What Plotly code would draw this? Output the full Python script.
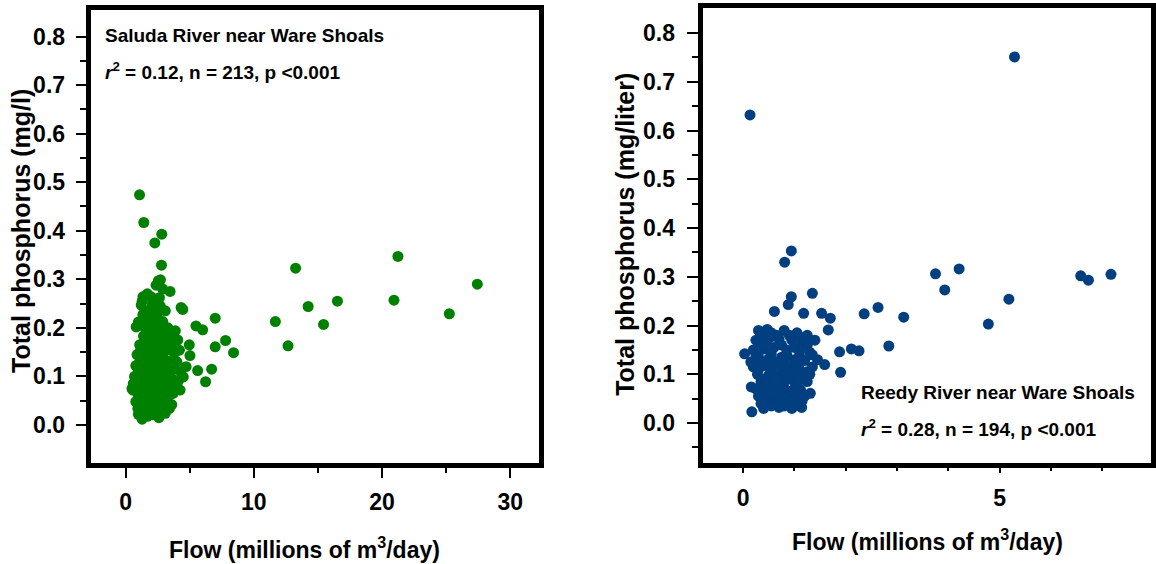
import plotly.graph_objects as go

W, H = 1156, 564

# ---------------- data ----------------
saluda_flow = [
    1.09, 1.42, 2.82, 2.28, 2.80, 2.56, 2.72, 2.38, 3.47, 13.26, 21.24, 27.43, 20.93, 25.25,
    16.52, 14.24, 15.44, 11.68, 12.67, 6.99, 8.42, 7.80, 6.99, 5.49, 6.01, 6.71, 5.62, 6.24,
    4.97, 5.02, 4.33, 4.46, 1.35, 2.00, 2.64, 1.22, 0.83, 1.35, 1.86, 2.90, 3.88, 3.42, 4.07,
    1.17, 1.73, 4.20, 4.72, 0.57, 1.29, 0.96, 3.42, 2.12, 4.25, 4.50,
    1.3, 2.1, 2.7, 1.5, 2.4, 3.1, 1.0, 1.9, 2.6, 3.3, 2.2,
    1.4, 2.0, 2.9, 3.6, 1.1, 1.6, 2.4, 3.0, 3.8, 0.9,
    1.3, 1.9, 2.6, 3.3, 4.0, 2.2, 0.8, 1.5, 2.0, 2.8, 3.5, 4.3, 1.2,
    0.7, 1.7, 2.3, 3.0, 3.7, 1.0, 2.6, 0.6, 1.4, 2.0, 3.2, 3.9, 1.8, 2.8,
    0.9, 1.5, 2.4, 3.4, 1.2, 2.1, 3.0, 0.8, 1.6, 2.5, 3.6, 1.1, 2.0, 2.9,
    1.4, 2.3, 3.1, 1.7, 2.6, 1.0,
    1.8, 2.5, 1.3, 2.2, 3.2, 1.6, 2.7, 0.5, 4.1, 1.9, 2.4, 1.1, 3.0, 1.5, 2.8, 3.3, 1.2, 2.0,
    1.7, 2.9,
    1.0, 1.6, 2.3, 2.9, 3.4, 1.3, 1.9, 2.5, 3.1, 3.7, 1.0, 1.8, 2.6, 3.3, 1.5, 2.2, 2.8,
    1.2, 2.0, 2.7, 3.4, 1.7, 2.4, 3.0, 3.8, 1.4, 2.2, 2.6, 1.8, 2.5,
]
saluda_tp = [
    0.474, 0.417, 0.393, 0.375, 0.329, 0.297, 0.299, 0.288, 0.275, 0.323, 0.347, 0.290, 0.257, 0.229,
    0.255, 0.244, 0.207, 0.213, 0.163, 0.220, 0.149, 0.174, 0.161, 0.204, 0.196, 0.115, 0.112, 0.089,
    0.165, 0.143, 0.242, 0.238, 0.264, 0.264, 0.262, 0.247, 0.202, 0.227, 0.220, 0.213, 0.194, 0.185, 0.175,
    0.154, 0.178, 0.154, 0.120, 0.072, 0.012, 0.034, 0.034, 0.021, 0.072, 0.099,
    0.255, 0.250, 0.245, 0.232, 0.228, 0.235, 0.212, 0.208, 0.205, 0.200, 0.190,
    0.183, 0.176, 0.172, 0.168, 0.165, 0.158, 0.155, 0.150, 0.148, 0.145,
    0.140, 0.138, 0.135, 0.132, 0.130, 0.128, 0.122, 0.120, 0.118, 0.115, 0.112, 0.110, 0.108,
    0.100, 0.100, 0.098, 0.096, 0.094, 0.092, 0.090, 0.085, 0.086, 0.082, 0.080, 0.078, 0.076, 0.074,
    0.068, 0.066, 0.064, 0.062, 0.058, 0.055, 0.052, 0.048, 0.046, 0.044, 0.042, 0.040, 0.038, 0.036,
    0.028, 0.026, 0.024, 0.018, 0.015, 0.022,
    0.130, 0.112, 0.075, 0.070, 0.108, 0.090, 0.125, 0.075, 0.090, 0.050, 0.160, 0.130, 0.190, 0.200,
    0.060, 0.085, 0.210, 0.240, 0.270, 0.280,
    0.110, 0.105, 0.112, 0.100, 0.095, 0.095, 0.090, 0.078, 0.070, 0.065, 0.060, 0.062, 0.055, 0.045,
    0.035, 0.040, 0.030, 0.150, 0.155, 0.160, 0.155, 0.140, 0.145, 0.125, 0.115, 0.170, 0.175, 0.185,
    0.200, 0.220,
]

reedy_flow = [
    5.29, 0.135, 0.94, 0.81, 3.75, 4.21, 3.93, 6.58, 6.73, 7.17, 5.18, 4.78, 2.63, 2.36, 3.13,
    2.84, 2.11, 2.26, 1.88, 1.90, 1.35, 0.94, 0.88, 0.61, 1.18, 1.53, 1.70, 1.66, 0.03, 0.17,
    1.14, 1.31, 1.59, 0.16, 0.47,
    0.30, 0.55, 0.80, 1.05, 1.25, 0.25, 0.45, 0.70, 0.95, 1.15, 1.40,
    0.20, 0.40, 0.60, 0.85, 1.10, 1.30, 0.30, 0.50, 0.75, 1.00, 1.20,
    0.20, 0.42, 0.65, 0.90, 1.10, 1.35, 0.28, 0.50, 0.72, 0.95, 1.18,
    0.35, 0.58, 0.80, 1.02, 1.25, 0.25, 0.45, 0.68, 0.90, 1.12,
    0.30, 0.55, 0.78, 1.00, 1.20, 0.35, 0.60, 0.85, 1.05, 0.40, 0.70, 0.95,
    0.15, 1.45, 0.52, 0.62, 0.88, 1.30, 0.33,
    0.35, 0.65, 0.90, 1.15, 0.40, 0.75, 1.00, 1.25, 0.25, 0.55, 0.85, 1.10, 1.35, 0.35, 0.60,
    0.80, 1.05, 0.30, 0.55, 0.78, 1.00, 1.25, 0.40, 0.65, 0.88, 1.10, 0.40, 0.60, 0.80, 1.02,
    0.42, 0.70, 0.90, 1.10, 0.45, 0.70, 0.95, 0.55, 0.80, 1.15,
]
reedy_tp = [
    0.751, 0.632, 0.353, 0.330, 0.306, 0.316, 0.273, 0.302, 0.293, 0.305, 0.254, 0.203, 0.237, 0.224, 0.217,
    0.158, 0.152, 0.148, 0.146, 0.104, 0.266, 0.259, 0.243, 0.229, 0.225, 0.225, 0.215, 0.191, 0.142, 0.023,
    0.032, 0.061, 0.120, 0.074, 0.192,
    0.190, 0.185, 0.190, 0.185, 0.180, 0.170, 0.168, 0.172, 0.170, 0.165, 0.170,
    0.150, 0.152, 0.155, 0.150, 0.148, 0.145, 0.135, 0.132, 0.135, 0.130, 0.128,
    0.115, 0.118, 0.120, 0.115, 0.110, 0.115, 0.100, 0.098, 0.100, 0.095, 0.098,
    0.085, 0.082, 0.085, 0.080, 0.085, 0.070, 0.068, 0.070, 0.065, 0.068,
    0.055, 0.052, 0.055, 0.050, 0.055, 0.040, 0.038, 0.040, 0.036, 0.030, 0.032, 0.030,
    0.125, 0.130, 0.175, 0.060, 0.105, 0.100, 0.165,
    0.180, 0.180, 0.180, 0.175, 0.160, 0.160, 0.155, 0.160, 0.140, 0.142, 0.140, 0.138, 0.140, 0.125, 0.125,
    0.125, 0.120, 0.110, 0.108, 0.110, 0.105, 0.105, 0.090, 0.090, 0.090, 0.088, 0.075, 0.075, 0.072, 0.072,
    0.060, 0.060, 0.058, 0.060, 0.045, 0.046, 0.045, 0.035, 0.035, 0.045,
]

y_ticks = [0.0, 0.1, 0.2, 0.3, 0.4, 0.5, 0.6, 0.7, 0.8]
y_ticktext = ["0.0", "0.1", "0.2", "0.3", "0.4", "0.5", "0.6", "0.7", "0.8"]
left_x_ticks = [0, 10, 20, 30]
left_x_ticktext = ["0", "10", "20", "30"]
left_x_minor = [5, 15, 25]
right_x_ticks = [0, 5]
right_x_ticktext = ["0", "5"]
right_x_minor = [1, 2, 3, 4, 6, 7]
left_y_minor = [0.05, 0.15, 0.25, 0.35, 0.45, 0.55, 0.65, 0.75]
right_y_minor = [-0.05, 0.05, 0.15, 0.25, 0.35, 0.45, 0.55, 0.65, 0.75]

GREEN = "#008000"
BLUE = "#023f80"
FONT = "Liberation Sans, Arial, sans-serif"


def px(x):
    return x / W


def py(y):
    return 1 - y / H


def bold(labels):
    return ["<b>" + t + "</b>" for t in labels]


fig = go.Figure()
fig.add_trace(go.Scatter(x=saluda_flow, y=saluda_tp, mode="markers",
                         marker=dict(color=GREEN, size=11, line=dict(width=0)),
                         xaxis="x", yaxis="y", showlegend=False))
fig.add_trace(go.Scatter(x=reedy_flow, y=reedy_tp, mode="markers",
                         marker=dict(color=BLUE, size=11, line=dict(width=0)),
                         xaxis="x2", yaxis="y2", showlegend=False))

tickfont = dict(family=FONT, size=23, color="black")
common = dict(showline=True, linewidth=5, linecolor="black", mirror=True,
              showgrid=False, zeroline=False, ticks="outside", tickwidth=2,
              tickcolor="black", tickfont=tickfont)

fig.update_layout(
    width=W, height=H,
    margin=dict(l=0, r=0, t=0, b=0),
    paper_bgcolor="white", plot_bgcolor="white",
    xaxis=dict(domain=[px(91), px(541)], range=[-2.72, 32.25], anchor="y",
               tickmode="array", tickvals=left_x_ticks, ticktext=bold(left_x_ticktext), ticklen=10,
               minor=dict(tickmode="array", tickvals=left_x_minor, ticklen=5, ticks="outside",
                          tickwidth=2, tickcolor="black"),
               ticklabelstandoff=4, **common),
    yaxis=dict(domain=[py(463), py(10)], range=[-0.0783, 0.8546], anchor="x",
               tickmode="array", tickvals=y_ticks, ticktext=bold(y_ticktext), ticklen=10,
               minor=dict(tickmode="array", tickvals=left_y_minor, ticklen=6, ticks="outside",
                          tickwidth=2, tickcolor="black"),
               ticklabelstandoff=6, **common),
    xaxis2=dict(domain=[px(705), px(1155)], range=[-0.79, 7.95], anchor="y2",
                tickmode="array", tickvals=right_x_ticks, ticktext=bold(right_x_ticktext), ticklen=5,
                minor=dict(tickmode="array", tickvals=right_x_minor, ticklen=3, ticks="outside",
                           tickwidth=2, tickcolor="black"),
                ticklabelstandoff=5, **common),
    yaxis2=dict(domain=[py(463), py(8)], range=[-0.082, 0.8513], anchor="x2",
                tickmode="array", tickvals=y_ticks, ticktext=bold(y_ticktext), ticklen=11,
                minor=dict(tickmode="array", tickvals=right_y_minor, ticklen=6, ticks="outside",
                           tickwidth=2, tickcolor="black"),
                ticklabelstandoff=7, **common),
)

ann_font = dict(family=FONT, size=19, color="black", weight="bold")
title_font = dict(family=FONT, size=23, color="black", weight="bold")
ytitle_font = dict(family=FONT, size=25, color="black", weight="bold")

annotations = [
    dict(text="Saluda River near Ware Shoals", x=px(103), y=py(36), xanchor="left", yanchor="middle",
         font=ann_font),
    dict(text="<i>r</i><sup>2</sup> = 0.12, n = 213, p &lt;0.001", x=px(103), y=py(71), xanchor="left",
         yanchor="middle", font=ann_font),
    dict(text="Reedy River near Ware Shoals", x=px(862), y=py(392), xanchor="left", yanchor="middle",
         font=ann_font),
    dict(text="<i>r</i><sup>2</sup> = 0.28, n = 194, p &lt;0.001", x=px(862), y=py(428), xanchor="left",
         yanchor="middle", font=ann_font),
    dict(text="Flow (millions of m<sup>3</sup>/day)", x=px(306), y=py(548), xanchor="center",
         yanchor="middle", font=title_font),
    dict(text="Flow (millions of m<sup>3</sup>/day)", x=px(931), y=py(540), xanchor="center",
         yanchor="middle", font=title_font),
    dict(text="Total phosphorus (mg/l)", x=px(21), y=py(231), xanchor="center", yanchor="middle",
         textangle=-90, font=ytitle_font),
    dict(text="Total phosphorus (mg/liter)", x=px(627), y=py(234), xanchor="center", yanchor="middle",
         textangle=-90, font=ytitle_font),
]
for a in annotations:
    a.update(xref="paper", yref="paper", showarrow=False)
fig.update_layout(annotations=annotations)

fig.write_html("out.html")
